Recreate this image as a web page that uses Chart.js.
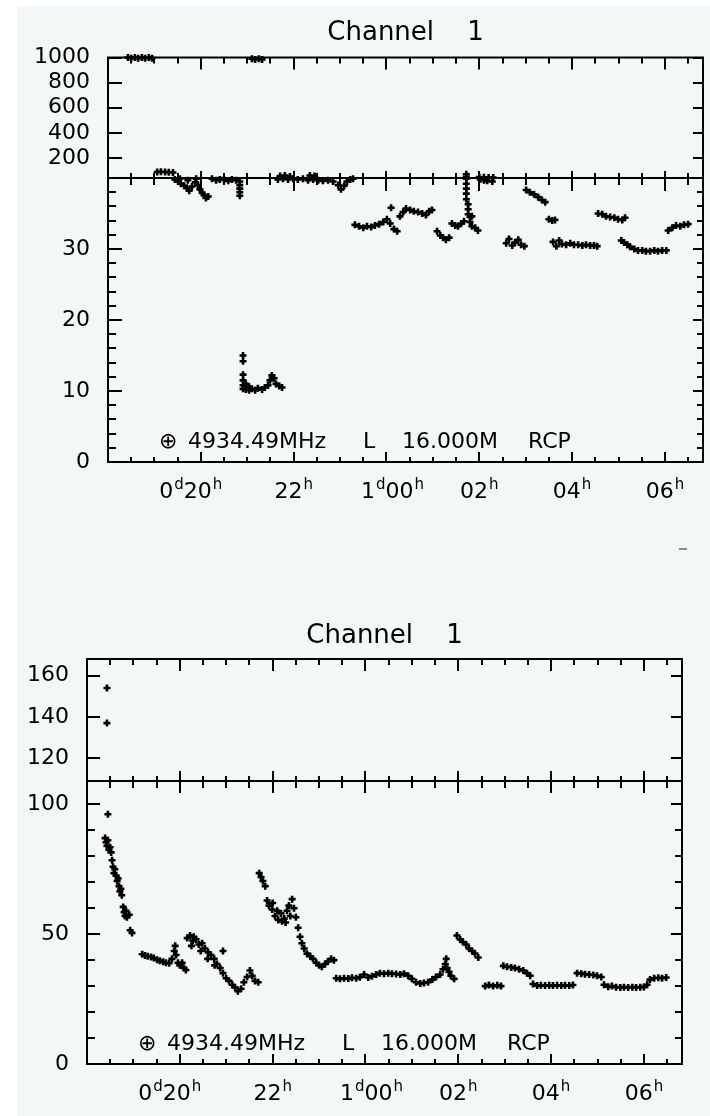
<!DOCTYPE html>
<html><head><meta charset="utf-8">
<script src="https://cdn.jsdelivr.net/npm/chart.js@4.4.1/dist/chart.umd.min.js"></script>
<style>
html,body{margin:0;padding:0;background:#fff;width:710px;height:1116px;overflow:hidden;position:relative}
#bg{position:absolute;left:17px;top:6px;width:693px;height:1110px;background:#f4f8f5}
canvas{position:absolute;left:0}
#c1{top:0px}
#c2{top:560px}
#dash{position:absolute;left:679px;top:548px;width:8px;height:2px;background:#888}
</style></head><body>
<div id="bg"></div>
<canvas id="c1" width="710" height="530"></canvas>
<canvas id="c2" width="710" height="556"></canvas>
<div id="dash"></div>
<script>
// ---------- data (time in hours from day 0 00h; values as read) ----------
const xTickValues = [20, 22, 24, 26, 28, 30];
const xTickLabels = ['0d20h', '22h', '1d00h', '02h', '04h', '06h'];
const titleText = 'Channel    1';
const annoText = ['\u2295', '4934.49MHz', 'L', '16.000M', 'RCP'];

// top panel: upper (broken) part 40..1000, lower part 0..40
const topHiTicks = [200, 400, 600, 800, 1000];
const topLoTicks = [0, 10, 20, 30];
const topHiTime = [18.43,18.50,18.58,18.65,18.73,18.80,18.88,18.95, 19.06,19.14,19.23,19.31,19.40, 21.10,21.17,21.25,21.32, 21.71,21.81,21.92, 22.35,22.45, 25.72,25.72, 26.00,26.10,26.20,26.30];
const topHiVal  = [1000,995,1000,995,1000,995,1000,995, 88,90,88,86,84, 990,985,990,985, 55,60,52, 60,55, 50,70, 48,46,44.5,43];
const topLoTime = [
 19.44,19.51,19.57,19.64,19.70,19.75,19.81,19.88,19.94,19.98,20.03,20.07,20.11,20.16,19.55,19.72,19.90,
 20.24,20.33,20.41,20.50,20.59,20.67,20.76,20.84,20.84,20.84,20.84,20.84,
 20.91,20.91,20.91,20.91,20.91,20.91,20.97,20.97,21.04,21.04,21.10,21.17,21.23,21.32,21.38,21.45,21.49,21.53,21.58,21.62,21.69,21.75,
 21.66,21.77,21.88,21.99,22.09,22.20,22.31,22.42,22.53,22.63,22.74,22.85,22.96,23.02,23.09,23.15,23.22,23.28,
 23.32,23.41,23.50,23.58,23.67,23.75,23.84,23.93,24.01,24.08,24.10,24.16,24.23,
 24.29,24.36,24.42,24.51,24.59,24.68,24.77,24.85,24.92,24.98,
 25.09,25.16,25.22,25.28,25.35,
 25.41,25.48,25.54,25.61,25.67,
 25.72,25.72,25.72,25.72,25.72,25.76,25.76,25.76,25.80,25.80,25.84,25.84,25.91,25.97,
 26.02,26.10,26.17,26.28,
 26.58,26.64,26.71,26.77,26.84,26.90,26.97,
 27.01,27.09,27.18,27.27,27.35,27.42,
 27.50,27.57,27.63,
 27.59,27.66,27.72,27.78,27.87,27.96,28.04,28.13,28.22,28.30,28.39,28.47,28.54,
 28.56,28.65,28.73,28.82,28.91,28.99,29.08,29.14,
 29.06,29.12,29.19,29.25,29.34,29.42,29.51,29.59,29.68,29.77,29.85,29.94,30.03,
 30.07,30.16,30.24,30.33,30.41,30.50];
const topLoVal = [
 39.8,39.5,39.2,38.9,38.6,38.2,38.8,39.4,39.0,38.4,37.9,37.6,37.2,37.4,39.9,39.7,39.9,
 39.9,39.7,39.8,39.8,39.6,39.8,39.7,39.5,39.0,38.5,38.0,37.5,
 15.0,14.2,12.3,11.5,10.8,10.3,11.0,10.2,10.6,10.1,10.3,10.1,10.4,10.2,10.5,10.8,11.5,12.2,11.8,11.0,10.7,10.5,
 39.8,39.9,39.8,39.9,39.8,39.9,39.7,39.8,39.7,39.6,39.7,39.5,39.0,38.4,38.9,39.5,39.8,39.9,
 33.4,33.2,33.0,33.2,33.1,33.3,33.5,33.8,34.2,33.6,35.8,32.8,32.5,
 34.6,35.2,35.7,35.5,35.3,35.2,35.0,34.8,35.3,35.5,
 32.5,31.9,31.6,31.3,31.6,
 33.6,33.3,33.2,33.6,33.9,
 39.9,39.2,38.5,37.8,37.0,36.3,35.6,34.9,34.5,33.8,33.2,34.6,33.0,32.6,
 39.8,39.7,39.6,39.5,
 30.8,31.4,30.5,30.9,31.3,30.6,30.4,
 38.3,38.0,37.7,37.3,36.9,36.6,
 34.2,34.0,34.1,
 31.0,30.4,31.2,30.7,30.6,30.8,30.6,30.6,30.5,30.6,30.5,30.5,30.4,
 35.0,34.9,34.6,34.5,34.4,34.2,34.1,34.4,
 31.2,30.9,30.6,30.3,30.0,29.8,29.8,29.7,29.7,29.8,29.7,29.8,29.8,
 32.6,33.0,33.3,33.2,33.4,33.5];

// bottom panel: upper part 109..168, lower part 0..109
const botHiTicks = [120, 140, 160];
const botLoTicks = [0, 50, 100];
const botHiTime = [18.43, 18.43];
const botHiVal  = [154, 137];
const botLoTime = [
 18.45,
 18.39,18.41,18.43,18.45,18.47,18.50,18.52,
 18.54,18.56,18.58,18.60,18.63,18.65,18.67,18.69,18.71,18.73,18.75,
 18.78,18.80,18.82,18.84,18.86,18.91,
 18.93,18.97,
 19.19,19.25,19.31,19.38,19.44,19.51,19.57,19.64,19.70,19.77,19.83,19.88,19.90,19.92,19.96,20.00,20.05,20.09,20.13,
 20.16,20.22,20.28,20.35,20.41,20.48,20.54,20.61,20.67,20.74,20.80,20.87,20.93,20.93,21.00,21.06,21.13,21.19,21.25,21.32,21.38,21.45,21.51,21.56,21.62,21.69,
 20.25,20.30,20.45,20.60,20.75,
 21.71,21.75,21.79,21.84,21.88,21.92,21.99,22.05,22.12,22.18,22.25,22.31,22.38,22.42,22.46,22.50,22.55,22.59,22.63,22.68,22.74,22.81,22.87,22.94,23.00,23.06,23.13,23.19,23.26,23.32,
 22.00,22.10,22.20,22.28,22.35,
 23.37,23.45,23.54,23.63,23.71,23.80,23.88,23.97,24.06,24.14,24.23,24.31,24.40,24.49,24.57,24.66,24.75,24.83,24.92,25.00,25.09,25.18,25.26,25.35,25.44,25.52,25.61,25.67,25.72,25.74,25.76,25.80,25.84,25.91,
 25.97,26.04,26.10,26.17,26.23,26.30,26.36,26.43,
 26.58,26.66,26.75,26.84,26.92,
 26.97,27.05,27.14,27.22,27.31,27.40,27.48,27.55,
 27.61,27.70,27.78,27.87,27.96,28.04,28.13,28.22,28.30,28.39,28.47,
 28.56,28.65,28.73,28.82,28.91,28.99,29.08,
 29.14,29.23,29.31,29.40,29.49,29.57,29.66,29.75,29.83,29.92,30.00,30.07,
 30.13,30.22,30.31,30.39,30.48];
const botLoVal = [
 96.2,
 87.0,85.4,84.0,86.2,82.5,83.5,81.5,
 78.5,76.0,73.5,75.0,72.5,70.5,71.5,68.5,66.5,67.5,65.0,
 60.5,58.5,57.0,59.0,56.5,57.5,
 51.5,50.5,
 42.3,41.8,41.5,41.2,40.8,40.2,39.8,39.4,39.0,38.8,40.5,43.5,45.5,42.0,39.0,38.0,39.0,37.0,36.2,
 48.5,49.5,47.5,48.0,46.0,46.5,44.5,43.0,42.0,40.5,38.5,37.0,43.5,35.0,33.0,32.0,30.5,29.5,28.0,29.0,31.5,33.5,36.0,34.0,32.0,31.5,
 45.5,49.0,43.5,40.5,38.0,
 73.5,72.0,70.5,68.5,63.0,61.0,59.5,57.0,55.5,58.0,56.0,59.0,57.0,63.5,60.0,56.5,52.5,49.0,46.5,44.5,42.5,41.5,40.5,39.0,38.0,37.5,38.5,39.5,40.5,40.0,
 62.0,59.0,55.0,54.5,61.0,
 33.0,32.8,33.0,32.9,33.2,33.0,33.4,34.5,33.3,33.8,34.5,35.0,34.8,35.0,34.8,34.7,34.5,34.8,34.0,32.8,31.5,31.0,31.2,31.5,32.5,33.5,34.5,36.5,38.5,40.5,37.0,35.5,34.0,32.8,
 49.5,48.0,47.0,46.0,44.5,43.5,42.5,41.0,
 30.0,30.4,30.0,30.3,30.0,
 37.8,37.5,37.2,37.0,36.5,36.0,35.0,34.0,
 30.8,30.2,30.3,30.2,30.3,30.2,30.3,30.2,30.3,30.2,30.4,
 35.0,34.8,34.6,34.5,34.3,34.0,33.5,
 30.5,29.8,30.0,29.6,29.5,29.6,29.5,29.6,29.5,29.6,29.7,30.5,
 32.5,33.0,33.2,33.0,33.3];

// ---------- drawing ----------
const FONT = "'DejaVu Sans', sans-serif";
const zip = (t, v) => t.map((x, i) => ({x: x, y: v[i]}));
const labelNudge = [-10, 0, 6, 0, 0, 0];

const frameTicks = {
  id: 'frameTicks',
  beforeDatasetsDraw(chart, args, o) {
    const {ctx, chartArea: a} = chart;
    const xs = chart.scales.x, hi = chart.scales.yHi, lo = chart.scales.yLo;
    const brk = hi.bottom;
    ctx.save();
    ctx.strokeStyle = '#000';
    ctx.lineWidth = 2;
    const L = (x1, y1, x2, y2) => { ctx.beginPath(); ctx.moveTo(x1, y1); ctx.lineTo(x2, y2); ctx.stroke(); };
    ctx.strokeRect(a.left, a.top, a.right - a.left, a.bottom - a.top);
    L(a.left, brk, a.right, brk);
    for (let v = 18.5; v < xs.max; v += 0.5) {
      const m = xTickValues.includes(v) ? 0 : 1;
      const px = Math.round(xs.getPixelForValue(v));
      L(px, a.top, px, a.top + o.xTop[m]);
      L(px, brk - o.xUp[m], px, brk + o.xDown[m]);
      L(px, a.bottom - o.xBot[m], px, a.bottom);
    }
    const yt = (scale, vals, m) => vals.forEach(v => {
      const py = Math.round(scale.getPixelForValue(v));
      L(a.left, py, a.left + o.yL[m], py);
      L(a.right - o.yR[m], py, a.right, py);
    });
    yt(hi, o.hiMajor, 0);
    yt(lo, o.loMajor, 0);
    const minors = [];
    for (let v = o.loMinorStep; v < lo.max; v += o.loMinorStep) if (!o.loMajor.includes(v)) minors.push(v);
    yt(lo, minors, 1);
    ctx.restore();
  },
  afterDraw(chart, args, o) {
    const {ctx, chartArea: a} = chart;
    const xs = chart.scales.x;
    ctx.save();
    ctx.fillStyle = '#000';
    ctx.textBaseline = 'alphabetic';
    const mainF = '22px ' + FONT, supF = '15px ' + FONT;
    xTickValues.forEach((v, i) => {
      const segs = xTickLabels[i].match(/[0-9]+|[a-z]+/g);
      let w = 0;
      segs.forEach(s => { ctx.font = /[a-z]/.test(s) ? supF : mainF; w += ctx.measureText(s).width + (/[a-z]/.test(s) ? 1 : 0); });
      let x = xs.getPixelForValue(v) - w / 2 + labelNudge[i];
      const by = a.bottom + 36;
      segs.forEach(s => {
        const sup = /[a-z]/.test(s);
        ctx.font = sup ? supF : mainF;
        ctx.textAlign = 'left';
        ctx.fillText(s, x + (sup ? 1 : 0), sup ? by - 9 : by);
        x += ctx.measureText(s).width + (sup ? 1 : 0);
      });
    });
    ctx.font = mainF;
    ctx.textAlign = 'left';
    const offs = [51, 80, 255, 294, 420];
    annoText.forEach((t, i) => ctx.fillText(t, a.left + offs[i], a.bottom - 14));
    ctx.restore();
  }
};

function yAxis(ticksArr, min, max, weight, stackWeight, width) {
  return {
    type: 'linear', position: 'left', stack: 'panel', stackWeight: stackWeight, weight: weight,
    min: min, max: max,
    grid: {display: false, drawTicks: false},
    border: {display: false},
    ticks: {padding: 18, color: '#000', autoSkip: false, font: {family: FONT, size: 22}, callback: v => String(v)},
    afterBuildTicks: s => { s.ticks = ticksArr.map(v => ({value: v})); },
    afterFit: s => { s.width = width; }
  };
}

function makeChart(id, p) {
  return new Chart(document.getElementById(id), {
    type: 'scatter',
    data: {datasets: [
      {data: zip(p.hiT, p.hiV), yAxisID: 'yHi', clip: false},
      {data: zip(p.loT, p.loV), yAxisID: 'yLo', clip: false}
    ]},
    options: {
      responsive: false, animation: false, events: [],
      layout: {padding: {left: 0, right: p.padRight, top: 0, bottom: p.padBottom}},
      elements: {point: {pointStyle: 'cross', radius: 3.5, borderWidth: 2.6, borderColor: '#000', backgroundColor: '#000'}},
      plugins: {
        legend: {display: false}, tooltip: {enabled: false},
        title: {display: true, text: titleText, fullSize: false, color: '#000',
          font: {family: FONT, size: 26, weight: 'normal', lineHeight: 1.2},
          padding: {top: p.titleTop, bottom: p.titleBottom}},
        frameTicks: p.ticks
      },
      scales: {
        x: {type: 'linear', display: false, min: 18, max: 30.82},
        yHi: yAxis(p.hiTicks, p.hiMin, p.hiMax, 2, p.hiW, p.axisW),
        yLo: yAxis(p.loTicks, 0, p.loMax, 1, p.loW, p.axisW)
      }
    },
    plugins: [frameTicks]
  });
}

makeChart('c1', {
  hiT: topHiTime, hiV: topHiVal, loT: topLoTime, loV: topLoVal,
  hiTicks: topHiTicks, loTicks: topLoTicks, hiMin: 40, hiMax: 1000, loMax: 40,
  hiW: 120.5, loW: 284, axisW: 108, padRight: 7, padBottom: 68,
  titleTop: 17.4, titleBottom: 8.9,
  ticks: {xTop: [12, 6], xUp: [7, 5], xDown: [13, 7], xBot: [10, 5], yL: [14, 8], yR: [10, 6],
          hiMajor: topHiTicks, loMajor: topLoTicks, loMinorStep: 2}
});
makeChart('c2', {
  hiT: botHiTime, hiV: botHiVal, loT: botLoTime, loV: botLoVal,
  hiTicks: botHiTicks, loTicks: botLoTicks, hiMin: 109, hiMax: 168, loMax: 109,
  hiW: 122, loW: 283, axisW: 87, padRight: 28, padBottom: 52,
  titleTop: 60.9, titleBottom: 6.9,
  ticks: {xTop: [12, 6], xUp: [10, 5], xDown: [12, 7], xBot: [10, 5], yL: [13, 8], yR: [11, 7],
          hiMajor: botHiTicks, loMajor: botLoTicks, loMinorStep: 10}
});
</script>
</body></html>
